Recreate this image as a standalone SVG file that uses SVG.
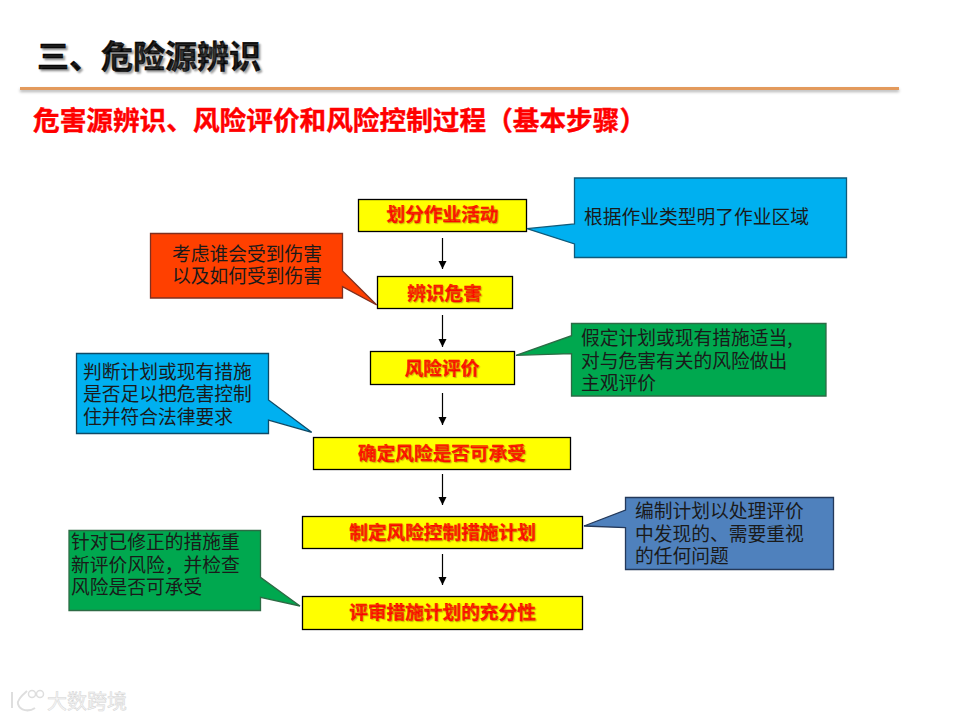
<svg xmlns="http://www.w3.org/2000/svg" width="960" height="720" viewBox="0 0 960 720">
<style>
text{font-family:"Noto Sans CJK SC","Liberation Sans",sans-serif}
.title{font-size:32px;font-weight:700;fill:#000;stroke:#000;stroke-width:.5;text-shadow:2px 2px 2px #999}
.sub{font-size:26.67px;font-weight:700;fill:#f00;stroke:#f00;stroke-width:.4}
.step rect{fill:#ff0;stroke:#000;stroke-width:1.3}
.step text{font-size:18.67px;font-weight:700;fill:#f00;stroke:#f00;stroke-width:.3;text-anchor:middle;text-shadow:1px 1px 1px #c9b400}
.note{font-size:18.75px;fill:#1a1a1a}
.mid{text-anchor:middle}
.conn line{stroke:#000;stroke-width:1.2;marker-end:url(#arr)}
.call{stroke-width:1.3}
</style>
<defs>
<marker id="arr" markerUnits="userSpaceOnUse" markerWidth="10" markerHeight="10" refX="8" refY="4" orient="auto"><path d="M0 0L8 4L0 8Z" fill="#000"/></marker>
<filter id="sh" x="-2%" y="-100%" width="104%" height="400%"><feDropShadow dx="0" dy="2" stdDeviation="1.5" flood-color="#000" flood-opacity=".3"/></filter>
</defs>
<rect width="960" height="720" fill="#fff"/>
<g id="title"><text class="title" x="37" y="68">三、危险源辨识</text></g>
<rect id="rule" x="20" y="87" width="879" height="3" fill="#E39A5B" filter="url(#sh)"/>
<g id="subtitle"><text class="sub" x="33" y="130">危害源辨识、风险评价和风险控制过程（基本步骤）</text></g>

<g id="connectors" class="conn">
<line x1="442.5" y1="238" x2="442.5" y2="269"/>
<line x1="442.5" y1="315" x2="442.5" y2="347"/>
<line x1="442.5" y1="393" x2="442.5" y2="425"/>
<line x1="442.5" y1="474" x2="442.5" y2="505"/>
<line x1="442.5" y1="554" x2="442.5" y2="585"/>
</g>

<g id="step1" class="step"><rect x="358.5" y="199.5" width="168" height="32"/><text x="442.5" y="221">划分作业活动</text></g>
<g id="step2" class="step"><rect x="377.5" y="276.5" width="135" height="32"/><text x="444.5" y="300">辨识危害</text></g>
<g id="step3" class="step"><rect x="370.5" y="351.5" width="144" height="33"/><text x="442" y="375">风险评价</text></g>
<g id="step4" class="step"><rect x="313.5" y="437.5" width="257" height="32"/><text x="442" y="460">确定风险是否可承受</text></g>
<g id="step5" class="step"><rect x="302.5" y="516.5" width="280" height="32"/><text x="442.5" y="539">制定风险控制措施计划</text></g>
<g id="step6" class="step"><rect x="302.5" y="596.5" width="280" height="33"/><text x="442.5" y="619">评审措施计划的充分性</text></g>

<g id="note1"><path class="call" d="M574.5 178H846.5V257.5H574.5V244L527 228.7L574.5 224Z" fill="#00B0F0" stroke="#0f5a7a"/><text class="note" x="584" y="224">根据作业类型明了作业区域</text></g>
<g id="note2"><path class="call" d="M150.5 233.5H342.5V271L376.7 305L342.5 286.7V298H150.5Z" fill="#FF4000" stroke="#7f3020"/><text class="note mid" y="261"><tspan x="247">考虑谁会受到伤害</tspan><tspan x="247" y="283">以及如何受到伤害</tspan></text></g>
<g id="note3"><path class="call" d="M571.5 323.5H826V396H571.5V353.7L516 355.3L571.5 335.7Z" fill="#00A84F" stroke="#2d6b45"/><text class="note" y="345"><tspan x="581">假定计划或现有措施适当,</tspan><tspan x="581" y="367.500">对与危害有关的风险做出</tspan><tspan x="581" y="390">主观评价</tspan></text></g>
<g id="note4"><path class="call" d="M76.500 353.500H268.500V400L311.700 432.300L268.500 420V433.500H76.500Z" fill="#00B0F0" stroke="#0f4a66"/><text class="note" y="379"><tspan x="83">判断计划或现有措施</tspan><tspan x="83" y="401">是否足以把危害控制</tspan><tspan x="83" y="424">住并符合法律要求</tspan></text></g>
<g id="note5"><path class="call" d="M625.500 497.500H833.500V569.500H625.500V527.700L584 526L625.500 510Z" fill="#4F81BD" stroke="#24395a"/><text class="note" y="518"><tspan x="635">编制计划以处理评价</tspan><tspan x="635" y="541">中发现的、需要重视</tspan><tspan x="635" y="563">的任何问题</tspan></text></g>
<g id="note6"><path class="call" d="M69 530.500H260.500V577.300L300 606L260.500 597.300V610.500H69Z" fill="#00A84F" stroke="#2d6b45"/><text class="note" y="549"><tspan x="71">针对已修正的措施重</tspan><tspan x="71" y="572">新评价风险，并检查</tspan><tspan x="71" y="594">风险是否可承受</tspan></text></g>

<g id="watermark" fill="none" stroke="#dedede" stroke-width="2">
<path d="M12 692V708M27 691C20 697 17 701 18 704C20 711 29 712 35 708"/>
<circle cx="32" cy="694" r="3.500" stroke-width="1.500"/><circle cx="40" cy="694" r="3.500" stroke-width="1.500"/>
<text x="47" y="709" font-size="20" fill="#f6f6f6" stroke="#d4d4d4" stroke-width=".5">大数跨境</text>
</g>
</svg>
